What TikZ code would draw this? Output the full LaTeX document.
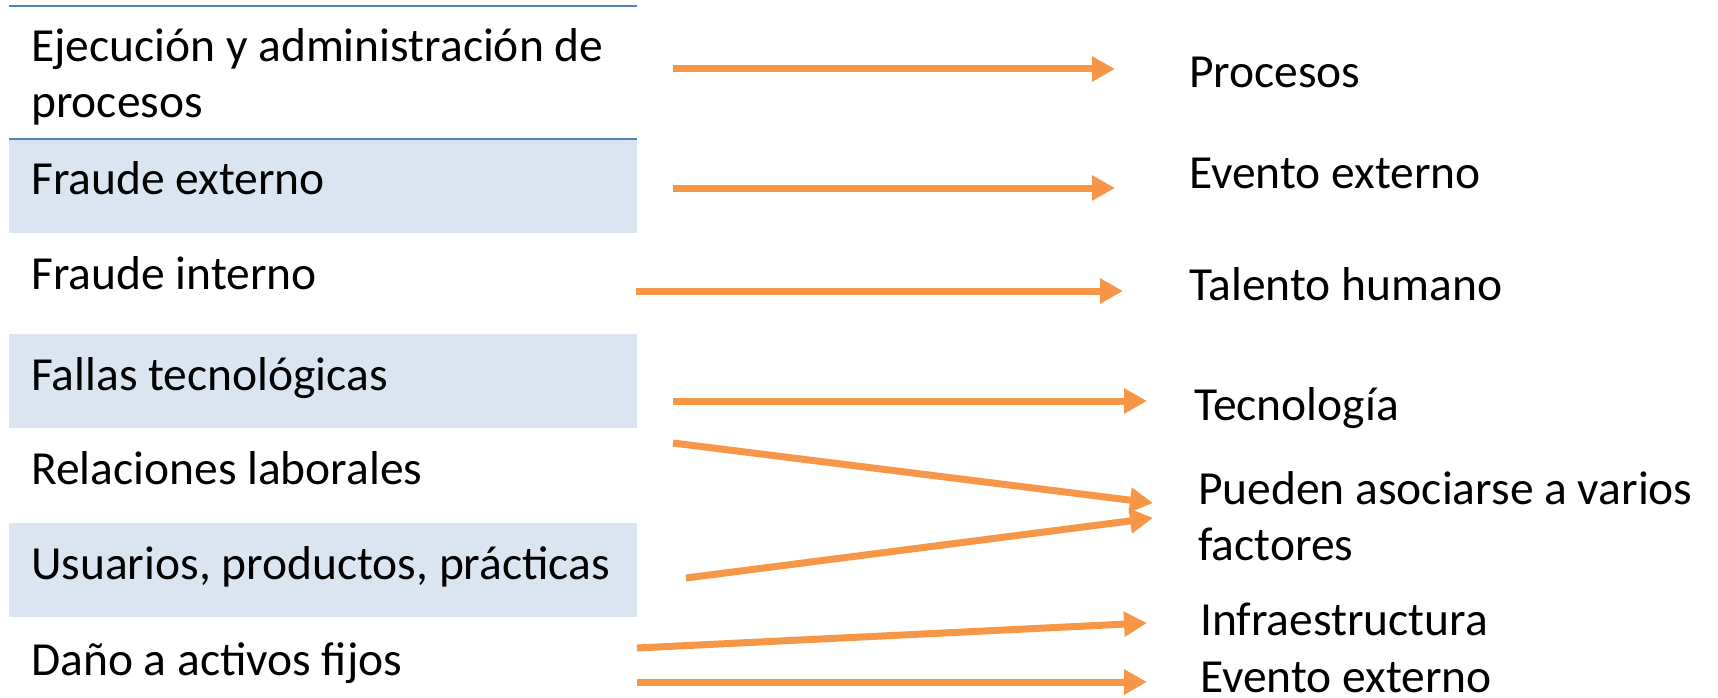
\documentclass[tikz,border=0pt]{standalone}
\usepackage{fontspec}
\setmainfont{Carlito}
\usetikzlibrary{arrows.meta}
\definecolor{arroworange}{HTML}{F79646}
\definecolor{bandblue}{HTML}{DBE5F1}
\definecolor{lineblue}{HTML}{4F81BD}
\begin{document}
\begin{tikzpicture}[x=1pt,y=-1pt,
  lbl/.style={anchor=base west,inner sep=0pt,font=\fontsize{47.5}{56}\selectfont,align=left},
  conn/.style={draw=arroworange,line width=7pt,-{Triangle[length=23pt,width=24pt]}},
  band/.style={fill=bandblue,draw=none},
  rule/.style={draw=lineblue,line width=2.5pt}]
\useasboundingbox (0,0) rectangle (1718,698);
% bands and rules
\fill[band] (9,139) rectangle (637,233);
\fill[band] (9,334) rectangle (637,428);
\fill[band] (9,523) rectangle (637,617);
\draw[rule] (9,6) -- (637,6);
\draw[rule] (9,139) -- (637,139);
% left texts
\node[lbl] (l1) at (31,118) {Ejecución y administración de\\procesos};
\node[lbl] (l2) at (31,194) {Fraude externo};
\node[lbl] (l3) at (31,289) {Fraude interno};
\node[lbl] (l4) at (31,390) {Fallas tecnológicas};
\node[lbl] (l5) at (31,484) {Relaciones laborales};
\node[lbl] (l6) at (31,579) {Usuarios, productos, prácticas};
\node[lbl] (l7) at (31,675) {Daño a activos fijos};
% right texts
\node[lbl] (r1) at (1189,88) {Procesos};
\node[lbl] (r2) at (1189,188) {Evento externo};
\node[lbl] (r3) at (1189,300) {Talento humano};
\node[lbl] (r4) at (1194,420) {Tecnología};
\node[lbl] (r5) at (1198,560) {Pueden asociarse a varios\\factores};
\node[lbl] (r6) at (1200,635) {Infraestructura};
\node[lbl] (r7) at (1200,692) {Evento externo};
% connector endpoints
\coordinate (a1) at (673,69);  \coordinate (b1) at (1115,69);
\coordinate (a2) at (673,188); \coordinate (b2) at (1115,188);
\coordinate (a3) at (636,291); \coordinate (b3) at (1123,291);
\coordinate (a4) at (673,401); \coordinate (b4) at (1147,401);
\coordinate (a5) at (673,443); \coordinate (b5) at (1153,503);
\coordinate (a6) at (686,578); \coordinate (b6) at (1153,518);
\coordinate (a7) at (637,648); \coordinate (b7) at (1147,623);
\coordinate (a8) at (637,682); \coordinate (b8) at (1147,682);
\foreach \i in {1,...,8} {\draw[conn] (a\i) -- (b\i);}
\end{tikzpicture}
\end{document}
